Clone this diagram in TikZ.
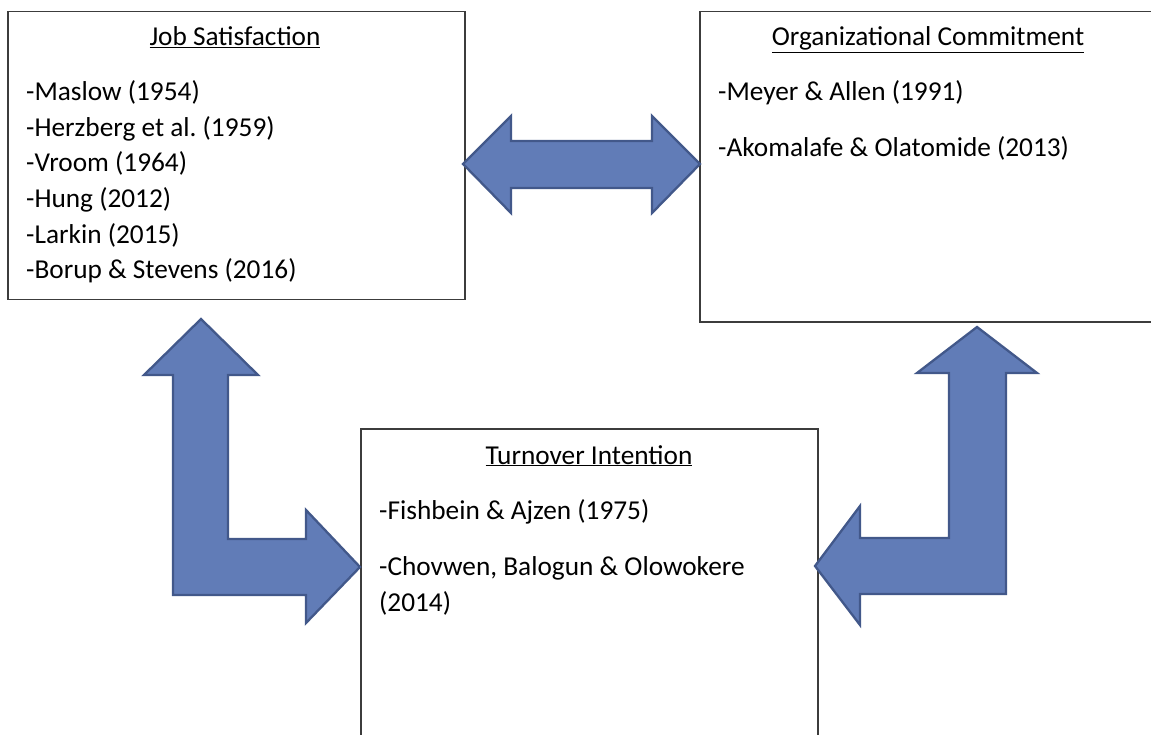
\documentclass[tikz,border=0pt]{standalone}
\usepackage{fontspec}
\setmainfont{Carlito}
\frenchspacing
\definecolor{arrowfill}{RGB}{97,124,183}
\definecolor{arrowline}{RGB}{66,88,138}
\definecolor{boxline}{RGB}{60,60,60}
\begin{document}
\begin{tikzpicture}[x=1pt,y=-1pt,
  box/.style={draw=boxline,line width=1.5pt,fill=white,anchor=north west,inner sep=0pt},
  txt/.style={anchor=base west,inner sep=0pt,font=\fontsize{27.3}{32}\selectfont},
  ttl/.style={anchor=base,inner sep=0pt,font=\fontsize{27.3}{32}\selectfont},
  blockarrow/.style={fill=arrowfill,draw=arrowline,line width=2.3pt,line join=miter}]
\useasboundingbox (0,0) rectangle (1151,735);
\clip (0,0) rectangle (1151,735);
% boxes
\node[box,minimum width=457pt,minimum height=288pt] (js) at (7,11) {};
\node[box,minimum width=480pt,minimum height=310pt] (oc) at (699,11) {};
\node[box,minimum width=457pt,minimum height=340pt] (ti) at (360,428) {};
% Job Satisfaction
\node[ttl] (jst) at (235,46) {\underline{Job Satisfaction}};
\node[txt] (js1) at (26,101) {-Maslow (1954)};
\node[txt] (js2) at (26,136.5) {-Herzberg et al.\ (1959)};
\node[txt] (js3) at (26,172) {-Vroom (1964)};
\node[txt] (js4) at (26,208) {-Hung (2012)};
\node[txt] (js5) at (26,243.5) {-Larkin (2015)};
\node[txt] (js6) at (26,279) {-Borup \& Stevens (2016)};
% Organizational Commitment
\node[ttl] (oct) at (928,46) {\underline{Organizational Commitment}};
\node[txt] (oc1) at (718,101) {-Meyer \& Allen (1991)};
\node[txt] (oc2) at (718,157) {-Akomalafe \& Olatomide (2013)};
% Turnover Intention
\node[ttl] (tit) at (589,464) {\underline{Turnover Intention}};
\node[txt] (ti1) at (379,519) {-Fishbein \& Ajzen (1975)};
\node[txt] (ti2) at (379,575) {-Chovwen, Balogun \& Olowokere};
\node[txt] (ti3) at (379,611) {(2014)};
% arrows
\draw[blockarrow] (463,164) -- (511,116) -- (511,141) -- (652,141) -- (652,116)
  -- (700,164) -- (652,213) -- (652,188) -- (511,188) -- (511,213) -- cycle;
\draw[blockarrow] (201,319) -- (258,375) -- (228,375) -- (228,539) -- (306,539)
  -- (306,510) -- (360,567) -- (306,623) -- (306,595) -- (173,595) -- (173,375)
  -- (144,375) -- cycle;
\draw[blockarrow] (977,327) -- (1037,373) -- (1006,373) -- (1006,594) -- (860,594)
  -- (860,625) -- (815,566) -- (860,506) -- (860,538) -- (949,538) -- (949,373)
  -- (917,373) -- cycle;
\end{tikzpicture}
\end{document}
